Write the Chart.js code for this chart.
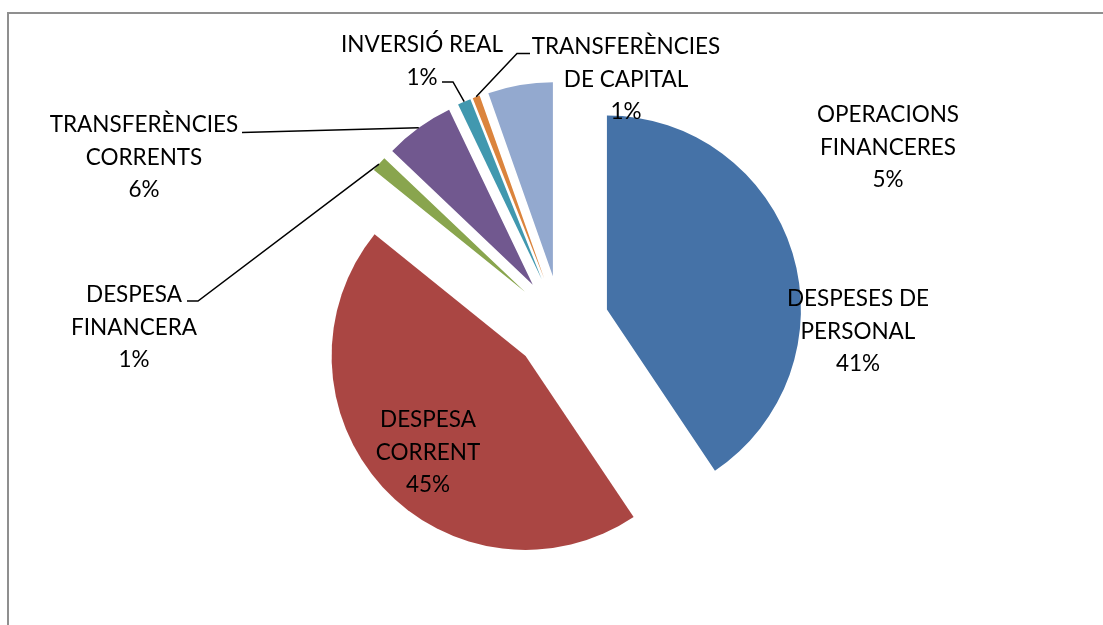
<!DOCTYPE html>
<html>
<head>
<meta charset="utf-8">
<script src="https://cdn.jsdelivr.net/npm/chart.js@4.4.1/dist/chart.umd.min.js"></script>
<style>
  html, body { margin: 0; padding: 0; background: #fff; }
  #wrap { width: 1103px; height: 625px; }
</style>
</head>
<body>
<div id="wrap"><canvas id="pieChart" width="1103" height="625"></canvas></div>
<script>

// DADES

const categories = [
    ['DESPESES DE', 'PERSONAL'],
    ['DESPESA', 'CORRENT'],
    ['DESPESA', 'FINANCERA'],
    ['TRANSFERÈNCIES', 'CORRENTS'],
    ['INVERSIÓ REAL'],
    ['TRANSFERÈNCIES', 'DE CAPITAL'],
    ['OPERACIONS', 'FINANCERES']
];

const values = [40.6, 45.2, 1.3, 5.8, 1.1, 0.6, 5.4];

const colors = ['#4572A7', '#AA4643', '#89A54E', '#71588F', '#4198AF', '#DB843D', '#93A9CF'];

// posició de les etiquetes (centre x, primera línia base y)
const labelPos = [
    [858, 306],
    [428, 427],
    [134, 302],
    [144, 132],
    [422, 52],
    [626, 54],
    [888, 122]
];

// línies guia: punts del costat de l'etiqueta, acaben al tall
const leaders = {
    2: [[187, 301], [198, 301]],
    3: [[242, 132.5]],
    4: [[442, 82], [453, 82]],
    5: [[530, 53.5], [517, 53.5]]
};

const EXPLODE = 48;
const FONT = '22.5px Lato';
const LINE_H = 32.5;

// MARC

const frame = {
    id: 'frame',
    beforeDraw(chart) {
        const c = chart.ctx;
        c.save();
        c.strokeStyle = '#8f8f8f';
        c.lineWidth = 2;
        c.strokeRect(8, 13, 1300, 800);
        c.restore();
    }
};

// SEPARAR PORCIONS

const explode = {
    id: 'explode',
    beforeDatasetsDraw(chart) {
        const a = chart.chartArea;
        const cx = (a.left + a.right) / 2;
        const cy = (a.top + a.bottom) / 2;
        chart.getDatasetMeta(0).data.forEach(arc => {
            const mid = (arc.startAngle + arc.endAngle) / 2;
            arc.x = cx + Math.cos(mid) * EXPLODE;
            arc.y = cy + Math.sin(mid) * EXPLODE;
        });
    }
};

// ETIQUETES

const labelsPlugin = {
    id: 'labelsPlugin',
    afterDatasetsDraw(chart) {
        const c = chart.ctx;
        const arcs = chart.getDatasetMeta(0).data;
        const total = values.reduce((s, v) => s + v, 0);

        c.save();
        c.strokeStyle = '#000';
        c.lineWidth = 1.5;
        Object.keys(leaders).forEach(k => {
            const arc = arcs[k];
            const mid = (arc.startAngle + arc.endAngle) / 2;
            const pts = leaders[k];
            c.beginPath();
            c.moveTo(pts[0][0], pts[0][1]);
            for (let i = 1; i < pts.length; i++) c.lineTo(pts[i][0], pts[i][1]);
            c.lineTo(arc.x + Math.cos(mid) * arc.outerRadius, arc.y + Math.sin(mid) * arc.outerRadius);
            c.stroke();
        });

        c.fillStyle = '#000';
        c.font = FONT;
        c.textAlign = 'center';
        c.textBaseline = 'alphabetic';
        categories.forEach((lines, i) => {
            const all = lines.concat([Math.round(values[i] / total * 100) + '%']);
            all.forEach((t, j) => {
                c.fillText(t, labelPos[i][0], labelPos[i][1] + j * LINE_H);
            });
        });
        c.restore();
    }
};

// GRÀFIC

new Chart(document.getElementById('pieChart'), {
    type: 'pie',
    data: {
        labels: categories,
        datasets: [{
            data: values,
            backgroundColor: colors,
            borderWidth: 0,
            offset: 0
        }]
    },
    options: {
        responsive: false,
        animation: false,
        events: [],
        radius: 194,
        layout: { padding: { left: 19, right: 0, top: 22, bottom: 0 } },
        plugins: {
            legend: { display: false },
            tooltip: { enabled: false }
        }
    },
    plugins: [frame, explode, labelsPlugin]
});

</script>
</body>
</html>
